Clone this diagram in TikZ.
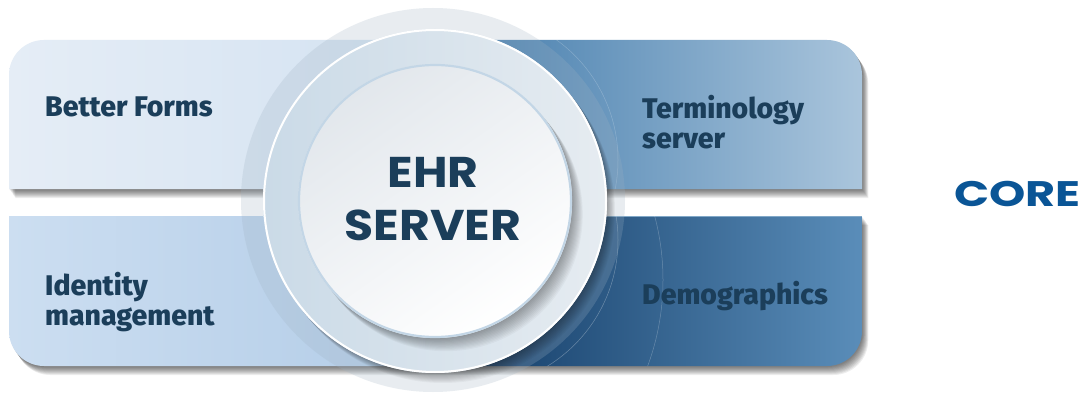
\documentclass[tikz,border=0pt]{standalone}
\usepackage{fontspec}
\setmainfont{Fira Sans}
\newfontfamily\heavyfont{Fira Sans ExtraBold}
\newfontfamily\popfont[FakeStretch=1.1]{Poppins}
\newfontfamily\corefont[FakeStretch=1.3]{Poppins}
\usetikzlibrary{calc}
\definecolor{tlA}{HTML}{E5EDF6}
\definecolor{tlB}{HTML}{D3E2F1}
\definecolor{trA}{HTML}{3F79AA}
\definecolor{trB}{HTML}{AAC5DC}
\definecolor{blA}{HTML}{CCDEF1}
\definecolor{blB}{HTML}{B2CCE7}
\definecolor{brA}{HTML}{0E3762}
\definecolor{brM}{HTML}{2C6EA3}
\definecolor{brB}{HTML}{5A8DB9}
\definecolor{txtdark}{HTML}{1B3E5A}
\definecolor{coreblue}{HTML}{0A5596}
\definecolor{haloc}{HTML}{9FB2C3}
\definecolor{midA}{HTML}{CADAE7}
\definecolor{midB}{HTML}{E6ECF1}
\definecolor{innA}{HTML}{E2E7EC}
\definecolor{innB}{HTML}{FFFFFF}
\definecolor{innEdge}{HTML}{C3D6E6}
\newcommand\lblfont{\heavyfont\fontsize{28.4}{30}\selectfont}
\begin{document}
\begin{tikzpicture}[x=1pt,y=-1pt,
  tl path/.style={insert path={(9,189) -- (9,75) arc[start angle=180,end angle=270,radius=35] -- (435,40) -- (435,189) -- cycle}},
  tr path/.style={insert path={(435,40) -- (827,40) arc[start angle=270,end angle=360,radius=35] -- (862,189) -- (435,189) -- cycle}},
  bl path/.style={insert path={(9,216) -- (435,216) -- (435,366) -- (44,366) arc[start angle=90,end angle=180,radius=35] -- cycle}},
  br path/.style={insert path={(435,216) -- (862,216) -- (862,331) arc[start angle=0,end angle=90,radius=35] -- (435,366) -- cycle}},
  lbl/.style={font=\lblfont, text=txtdark, inner sep=0pt, align=left, anchor=base west},
  shadowlayer/.style={fill=black, opacity=0.07}
]
\useasboundingbox (0,0) rectangle (1085,396);
\fill[white] (0,0) rectangle (1085,396);
% band shadows
\foreach \k in {1,...,9}{
  \fill[shadowlayer, shift={(0.7*\k,1.0*\k)}, tl path];
  \fill[shadowlayer, shift={(0.7*\k,1.0*\k)}, tr path];
  \fill[shadowlayer, shift={(0.7*\k,1.0*\k)}, bl path];
  \fill[shadowlayer, shift={(0.7*\k,1.0*\k)}, br path];
}
% bands
\shade[left color=tlA, right color=tlB, tl path];
\shade[left color=trA, right color=trB, tr path];
\shade[left color=blA, right color=blB, bl path];
\shade[left color=brA, middle color=brM, right color=brB, br path];
\draw[brM!60!white, line width=1.2pt] (435,216.6) -- (862,216.6);
% faint arcs on right bands
\begin{scope}
  \clip[br path];
  \draw[white, opacity=0.3, line width=0.5pt] (470,240) circle[radius=148];
  \draw[white, opacity=0.25, line width=0.5pt] (415,280) circle[radius=248];
\end{scope}
\begin{scope}
  \clip[tr path];
  \draw[white, opacity=0.22, line width=0.5pt] (470,160) circle[radius=148];
\end{scope}
% halo
\fill[haloc, opacity=0.24] (433,200) circle[radius=192];
% middle disc shadow
\foreach \k in {1,...,10}{
  \fill[black, opacity=0.035] ($(435,201)+(0.8*\k,1.0*\k)$) circle[radius=172];
}
\shade[left color=midA, right color=midB] (435,201) circle[radius=172];
\draw[white, line width=2pt] (435,201) circle[radius=171];
% inner disc shadow
\foreach \k in {1,...,12}{
  \fill[black, opacity=0.03] ($(435,201)+(0.9*\k,1.1*\k)$) circle[radius=137];
}
\shade[top color=innA, bottom color=innB, shading angle=35] (435,201) circle[radius=137];
\draw[innEdge, line width=2.2pt] (435,201) circle[radius=136];
\node[circle, minimum size=270pt, inner sep=0pt] (ehr) at (435,201) {};
% texts
\node[font=\popfont\fontsize{43}{53}\selectfont\bfseries, text=txtdark, align=center, inner sep=0pt, anchor=base] (ehrtext) at (433,240) {EHR\\SERVER};
\node[lbl] (betterforms) at (45,117) {Better Forms};
\node[lbl] (terminology) at (642,148) {Terminology\\server};
\node[lbl] (identity) at (45,325) {Identity\\management};
\node[lbl] (demographics) at (642,304) {Demographics};
\node[font=\corefont\fontsize{35.5}{36}\selectfont\bfseries, text=coreblue, inner sep=0pt, anchor=base west] (core) at (954,206) {CORE};
\end{tikzpicture}
\end{document}
